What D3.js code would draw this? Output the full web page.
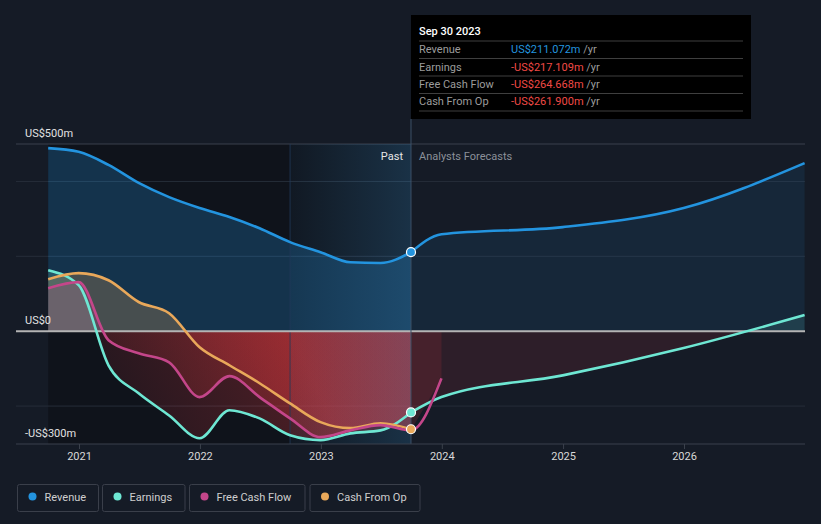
<!DOCTYPE html>
<html>
<head>
<meta charset="utf-8">
<script src="https://cdn.jsdelivr.net/npm/d3@7"></script>
<style>
  html, body { margin: 0; padding: 0; background: #151b26; }
  svg { display: block; font-family: Roboto, "Noto Sans", sans-serif; }
</style>
</head>
<body>
<svg id="chart" width="821" height="524"></svg>
<script>
// ---------- data ----------
const pastDates = ["2020-09-30","2020-12-31","2021-03-31","2021-06-30","2021-09-30","2021-12-31","2022-03-31","2022-06-30","2022-09-30","2022-12-31","2023-03-31","2023-06-30","2023-09-30"];
const revenuePast  = [489, 479, 444, 396, 358, 329, 305, 275, 238, 211, 184, 182, 211.072];
const earningsPast = [163, 123, -91, -166, -225, -286, -211, -233, -278, -291, -273, -265, -217.109];
const fcfPast      = [115, 131, -24, -59, -83, -176, -120, -176, -233, -283, -265, -251, -264.668];
const cfoPast      = [139, 155, 136, 78, 48, -43, -91, -139, -193, -243, -259, -246, -261.9];

const forecastDates    = ["2023-09-30","2023-12-31","2024-12-31","2025-12-31","2026-12-31"];
const revenueForecast  = [211.072, 259, 278, 329, 449];
const earningsForecast = [-217.109, -176, -118, -45, 43];
const fcfForecastDates = ["2023-09-30","2023-12-31"];
const fcfForecast      = [-264.668, -126];

const yearTicks = ["2021","2022","2023","2024","2025","2026"];
const yLabels = [{v: 500, t: "US$500m"}, {v: 0, t: "US$0"}, {v: -300, t: "-US$300m"}];
const gridValues = [400, 200, -200];

const seriesNames  = ["Revenue", "Earnings", "Free Cash Flow", "Cash From Op"];
const seriesColors = ["#2394df", "#6ee7d3", "#c4468a", "#e9a85a"];

const tooltipTitle = "Sep 30 2023";
const tooltipValues = ["US$211.072m", "-US$217.109m", "-US$264.668m", "-US$261.900m"];
const pastDate = "2023-09-30";
const bandStart = "2022-09-30";

// ---------- setup ----------
const parse = d3.timeParse("%Y-%m-%d");
const svg = d3.select("#chart");
const W = 821, H = 524;
const pLeft = 16, pRight = 805, pTop = 144, pBottom = 444;

const x = d3.scaleTime()
  .domain([new Date(2021, 0, 1), new Date(2026, 0, 1)])
  .range([79, 684]);
const y = d3.scaleLinear().domain([-300, 500]).range([443.5, 144]);

const mk = (dates, vals) => dates.map((d, i) => ({date: parse(d), v: vals[i]}));
const revP = mk(pastDates, revenuePast), earnP = mk(pastDates, earningsPast),
      fcfP = mk(pastDates, fcfPast), cfoP = mk(pastDates, cfoPast);
const revF = mk(forecastDates, revenueForecast), earnF = mk(forecastDates, earningsForecast);
const fcfAll = fcfP.concat(mk(fcfForecastDates, fcfForecast).slice(1));

const xPast = x(parse(pastDate));
const xBand = x(parse(bandStart));
const xStart = x(parse(pastDates[0]));
const y0 = y(0);

const defs = svg.append("defs");
defs.append("clipPath").attr("id", "above").append("rect")
  .attr("x", 0).attr("y", 0).attr("width", W).attr("height", y0);
defs.append("clipPath").attr("id", "below").append("rect")
  .attr("x", 0).attr("y", y0).attr("width", W).attr("height", H - y0);

const bg = defs.append("linearGradient").attr("id", "bandGrad")
  .attr("x1", 0).attr("x2", 1).attr("y1", 0).attr("y2", 0);
bg.append("stop").attr("offset", 0).attr("stop-color", "#3f9ee0").attr("stop-opacity", 0.04);
bg.append("stop").attr("offset", 1).attr("stop-color", "#3f9ee0").attr("stop-opacity", 0.22);

const rg = defs.append("linearGradient").attr("id", "redPast")
  .attr("gradientUnits", "userSpaceOnUse")
  .attr("x1", xStart).attr("y1", pBottom).attr("x2", xBand).attr("y2", y0);
rg.append("stop").attr("offset", 0).attr("stop-color", "#e0393e").attr("stop-opacity", 0.03);
rg.append("stop").attr("offset", 1).attr("stop-color", "#e0393e").attr("stop-opacity", 0.3);

// ---------- background layers ----------
svg.append("rect").attr("x", xStart).attr("y", pTop).attr("width", xPast - xStart).attr("height", pBottom - pTop)
  .attr("fill", "#000").attr("opacity", 0.28);

svg.append("g").selectAll("line").data(gridValues).join("line")
  .attr("x1", pLeft).attr("x2", pRight).attr("y1", d => y(d)).attr("y2", d => y(d))
  .attr("stroke", "#262d39").attr("stroke-width", 1);
svg.append("line").attr("x1", pLeft).attr("x2", pRight).attr("y1", y(500)).attr("y2", y(500))
  .attr("stroke", "#3b414c").attr("stroke-width", 1);

// ---------- areas ----------
const curve = d3.curveMonotoneX;
const area = d3.area().x(d => x(d.date)).y0(y0).y1(d => y(d.v)).curve(curve);
const line = d3.line().x(d => x(d.date)).y(d => y(d.v)).curve(curve);

svg.append("path").attr("d", area(revP)).attr("fill", "#2394df").attr("opacity", 0.25);
svg.append("path").attr("d", area(revF)).attr("fill", "#2394df").attr("opacity", 0.1);

const posOp = [0, 0.2, 0.2, 0.24];
[[earnP, 1], [cfoP, 3], [fcfP, 2]].forEach(([data, i]) => {
  svg.append("path").attr("d", area(data)).attr("clip-path", "url(#above)")
    .attr("fill", seriesColors[i]).attr("opacity", posOp[i]);
});
[earnP, fcfP, cfoP].forEach(data => {
  svg.append("path").attr("d", area(data)).attr("clip-path", "url(#below)")
    .attr("fill", "url(#redPast)");
});
svg.append("path").attr("d", area(earnF)).attr("clip-path", "url(#below)").attr("fill", "#e0393e").attr("opacity", 0.12);
svg.append("path").attr("d", area(earnF)).attr("clip-path", "url(#above)").attr("fill", "#6ee7d3").attr("opacity", 0.12);
svg.append("path").attr("d", area(fcfAll.slice(-2))).attr("clip-path", "url(#below)").attr("fill", "#e0393e").attr("opacity", 0.14);

// highlight band (last 12 months) drawn over the fills
svg.append("rect").attr("x", xBand).attr("y", pTop).attr("width", xPast - xBand).attr("height", pBottom - pTop)
  .attr("fill", "url(#bandGrad)");
svg.append("line").attr("x1", xBand).attr("x2", xBand).attr("y1", pTop).attr("y2", pBottom)
  .attr("stroke", "#22395a").attr("stroke-opacity", 0.8).attr("stroke-width", 1);

svg.append("line").attr("x1", pLeft).attr("x2", pRight).attr("y1", y0).attr("y2", y0)
  .attr("stroke", "#b4b4b4").attr("stroke-width", 2);

svg.append("line").attr("x1", xPast).attr("x2", xPast).attr("y1", 119).attr("y2", pBottom)
  .attr("stroke", "#3c5068").attr("stroke-width", 1);

// ---------- lines ----------
const lw = 2.6;
svg.append("path").attr("d", line(revP)).attr("fill", "none").attr("stroke", seriesColors[0]).attr("stroke-width", lw);
svg.append("path").attr("d", line(revF)).attr("fill", "none").attr("stroke", seriesColors[0]).attr("stroke-width", lw);
svg.append("path").attr("d", line(earnP)).attr("fill", "none").attr("stroke", seriesColors[1]).attr("stroke-width", lw);
svg.append("path").attr("d", line(earnF)).attr("fill", "none").attr("stroke", seriesColors[1]).attr("stroke-width", lw);
svg.append("path").attr("d", line(cfoP)).attr("fill", "none").attr("stroke", seriesColors[3]).attr("stroke-width", lw);
svg.append("path").attr("d", line(fcfAll)).attr("fill", "none").attr("stroke", seriesColors[2]).attr("stroke-width", lw);

[[revP, 0], [earnP, 1], [cfoP, 3]].forEach(([data, i]) => {
  const d = data[data.length - 1];
  svg.append("circle").attr("cx", x(d.date)).attr("cy", y(d.v)).attr("r", 4.5)
    .attr("fill", seriesColors[i]).attr("stroke", "#fff").attr("stroke-width", 1.2);
});

// ---------- axes ----------
svg.append("line").attr("x1", pLeft).attr("x2", pRight).attr("y1", pBottom).attr("y2", pBottom)
  .attr("stroke", "#3b414c").attr("stroke-width", 1);
const xAxis = svg.append("g").attr("transform", `translate(0,${pBottom})`)
  .call(d3.axisBottom(x).tickValues(yearTicks.map(t => new Date(+t, 0, 1))).tickFormat(d3.timeFormat("%Y")).tickSize(5).tickPadding(3));
xAxis.select(".domain").remove();
xAxis.selectAll("line").attr("stroke", "#3b414c");
xAxis.selectAll("text").attr("fill", "#d8d8d8").attr("font-size", 11).attr("font-family", "Roboto, sans-serif");

svg.append("g").selectAll("text").data(yLabels).join("text")
  .attr("x", 25).attr("y", d => y(d.v) - 7)
  .attr("fill", "#e2e2e2").attr("font-size", 11).text(d => d.t);

svg.append("text").attr("x", xPast - 8).attr("y", 160).attr("text-anchor", "end")
  .attr("fill", "#e6e6e6").attr("font-size", 11).text("Past");
svg.append("text").attr("x", xPast + 8).attr("y", 160)
  .attr("fill", "#8b9099").attr("font-size", 11).text("Analysts Forecasts");

// ---------- tooltip ----------
const tt = svg.append("g");
tt.append("rect").attr("x", xPast).attr("y", 15).attr("width", 340).attr("height", 104).attr("fill", "#000");
tt.append("text").attr("x", 419).attr("y", 35).attr("fill", "#fff").attr("font-size", 11)
  .attr("font-weight", 500).text(tooltipTitle);
const rowY = [53, 70.5, 88, 105];
const sepY = [41, 58.5, 76, 93.5, 111];
tt.selectAll("line.sep").data(sepY).join("line")
  .attr("x1", 419).attr("x2", 743).attr("y1", d => d).attr("y2", d => d)
  .attr("stroke", "#3f3f3f").attr("stroke-width", 1);
seriesNames.forEach((n, i) => {
  tt.append("text").attr("x", 419).attr("y", rowY[i]).attr("fill", "#9c9c9c").attr("font-size", 11).text(n);
  const t = tt.append("text").attr("x", 511).attr("y", rowY[i]).attr("font-size", 11);
  t.append("tspan").attr("fill", i === 0 ? "#2394df" : "#f04a46").text(tooltipValues[i]);
  t.append("tspan").attr("fill", "#9c9c9c").text(" /yr");
});

// ---------- legend ----------
const legX = [17, 102, 189, 309.5];
const legW = [81, 82.5, 115.5, 110];
const lg = svg.append("g");
seriesNames.forEach((n, i) => {
  const g = lg.append("g").attr("transform", `translate(${legX[i]},484)`);
  g.append("rect").attr("x", 0.5).attr("y", 0.5).attr("width", legW[i]).attr("height", 27).attr("rx", 2)
    .attr("fill", "#151b26").attr("stroke", "#3a3f4a");
  g.append("circle").attr("cx", 15.5).attr("cy", 12.5).attr("r", 4).attr("fill", seriesColors[i]);
  g.append("text").attr("x", 27.5).attr("y", 16.5).attr("fill", "#cfcfcf").attr("font-size", 11).text(n);
});
</script>
</body>
</html>
